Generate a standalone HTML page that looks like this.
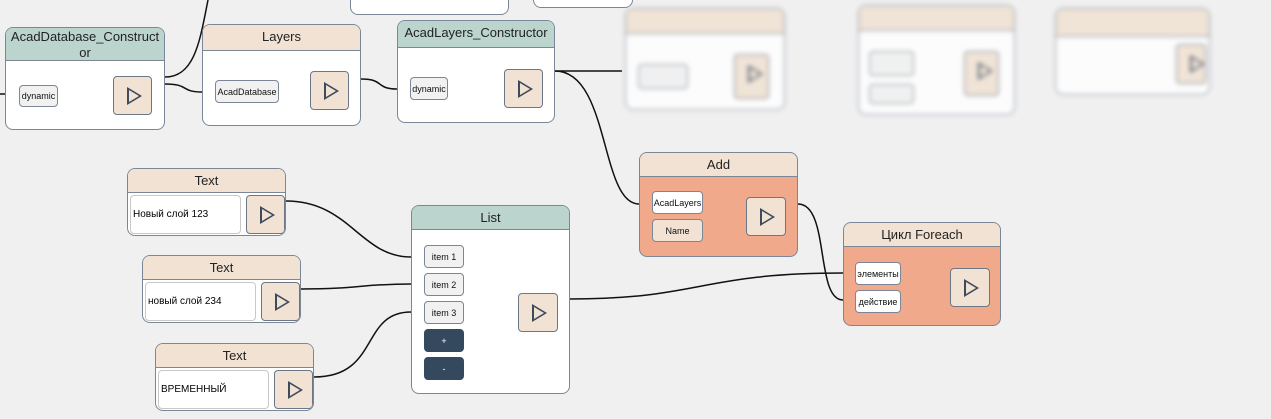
<!DOCTYPE html>
<html><head><meta charset="utf-8"><style>
body{margin:0;width:1271px;height:419px;background:#f0f0f0;position:relative;overflow:hidden;font-family:"Liberation Sans","DejaVu Sans",sans-serif;}
.n{position:absolute;background:#fff;border:1px solid #7b8796;border-radius:8px;box-sizing:border-box;overflow:hidden;}
.h{background:#f1e2d3;border-bottom:1px solid #7b8796;text-align:center;font-size:13px;color:#222;box-sizing:border-box;}
.t{background:#bcd4ce;}
.o{background:#f0a98b;}
.p{position:absolute;border:1px solid #7b8796;border-radius:4px;background:#f1f1f1;font-size:9px;color:#111;display:flex;align-items:center;justify-content:center;box-sizing:border-box;}
.d{background:#34495e;color:#fff;border-color:#34495e;}
.b{position:absolute;border:1px solid #6b7786;border-radius:4px;background:#f1e2d3;box-sizing:border-box;}
.b::after{content:"";position:absolute;left:13px;top:10px;border-left:15px solid #3e4b5c;border-top:9px solid transparent;border-bottom:9px solid transparent;}
.b::before{content:"";position:absolute;left:15px;top:13px;border-left:10px solid #f1e2d3;border-top:6px solid transparent;border-bottom:6px solid transparent;z-index:2;}
.in{position:absolute;border:1px solid #c8c8c8;border-radius:4px;background:#fff;font-size:10px;display:flex;align-items:center;padding-left:2px;box-sizing:border-box;}
.bl{filter:blur(2.5px);opacity:.85}
</style></head><body>
<svg width="1271" height="419" style="position:absolute;left:0;top:0" fill="none" stroke="#111" stroke-width="1.5">
<path d="M0 94 H18"/>
<path d="M165 77 C195 77 200 40 208 0"/>
<path d="M165 84 C190 84 180 92 202 92"/>
<path d="M361 79 C385 79 375 89 397 89"/>
<path d="M555 71 H622" />
<path d="M555 71 C610 71 600 204 639 204"/>
<path d="M798 204 C830 204 815 300 843 300"/>
<path d="M570 299 C700 299 700 273 843 273"/>
<path d="M286 201 C350 201 360 257 411 257"/>
<path d="M301 289 C360 289 360 284 411 284"/>
<path d="M314 377 C380 377 360 312 411 312"/>
</svg>

<div class="n" style="left:350px;top:-10px;width:159px;height:25px"></div>
<div class="n" style="left:533px;top:-10px;width:100px;height:18px"></div>

<div class="bl">
<div class="n" style="left:625px;top:8px;width:160px;height:102px"><div class="h" style="height:25px"></div>
<div class="p" style="left:12px;top:55px;width:50px;height:25px"></div><div class="b" style="left:108px;top:45px;width:35px;height:45px"></div></div>
<div class="n" style="left:858px;top:5px;width:157px;height:110px"><div class="h" style="height:25px"></div>
<div class="p" style="left:10px;top:45px;width:45px;height:25px"></div><div class="p" style="left:10px;top:78px;width:45px;height:20px"></div><div class="b" style="left:105px;top:45px;width:35px;height:45px"></div></div>
<div class="n" style="left:1055px;top:8px;width:155px;height:87px"><div class="h" style="height:28px"></div><div class="b" style="left:120px;top:35px;width:30px;height:40px"></div></div>
</div>

<div class="n" style="left:5px;top:27px;width:160px;height:103px"><div class="h t" style="height:33px;line-height:16px;padding-top:1px">AcadDatabase_Construct<br>or</div>
<div class="p" style="left:13px;top:57px;width:39px;height:22px">dynamic</div><div class="b" style="left:107px;top:48px;width:39px;height:39px"></div></div>

<div class="n" style="left:202px;top:24px;width:159px;height:102px"><div class="h" style="height:26px;line-height:24px">Layers</div>
<div class="p" style="left:12px;top:55px;width:64px;height:23px">AcadDatabase</div><div class="b" style="left:107px;top:46px;width:39px;height:39px"></div></div>

<div class="n" style="left:397px;top:20px;width:158px;height:103px"><div class="h t" style="height:27px;line-height:24px">AcadLayers_Constructor</div>
<div class="p" style="left:12px;top:56px;width:38px;height:23px">dynamic</div><div class="b" style="left:106px;top:48px;width:39px;height:39px"></div></div>

<div class="n" style="left:127px;top:168px;width:159px;height:68px"><div class="h" style="height:24px;line-height:24px">Text</div>
<div class="in" style="left:2px;top:26px;width:111px;height:39px">Новый слой 123</div><div class="b" style="left:118px;top:26px;width:39px;height:39px"></div></div>
<div class="n" style="left:142px;top:255px;width:159px;height:68px"><div class="h" style="height:24px;line-height:24px">Text</div>
<div class="in" style="left:2px;top:26px;width:111px;height:39px">новый слой 234</div><div class="b" style="left:118px;top:26px;width:39px;height:39px"></div></div>
<div class="n" style="left:155px;top:343px;width:159px;height:68px"><div class="h" style="height:24px;line-height:24px">Text</div>
<div class="in" style="left:2px;top:26px;width:111px;height:39px">ВРЕМЕННЫЙ</div><div class="b" style="left:118px;top:26px;width:39px;height:39px"></div></div>

<div class="n" style="left:411px;top:205px;width:159px;height:189px"><div class="h t" style="height:24px;line-height:24px">List</div>
<div class="p" style="left:12px;top:39px;width:40px;height:23px">item 1</div>
<div class="p" style="left:12px;top:67px;width:40px;height:23px">item 2</div>
<div class="p" style="left:12px;top:95px;width:40px;height:23px">item 3</div>
<div class="p d" style="left:12px;top:123px;width:40px;height:23px">+</div>
<div class="p d" style="left:12px;top:151px;width:40px;height:23px">-</div>
<div class="b" style="left:106px;top:87px;width:40px;height:39px"></div></div>

<div class="n o" style="left:639px;top:152px;width:159px;height:105px"><div class="h" style="height:24px;line-height:24px">Add</div>
<div class="p" style="left:12px;top:38px;width:51px;height:23px;background:#fff">AcadLayers</div>
<div class="p" style="left:12px;top:66px;width:51px;height:23px;background:#f1e2d3">Name</div>
<div class="b" style="left:106px;top:44px;width:40px;height:39px"></div></div>

<div class="n o" style="left:843px;top:222px;width:158px;height:104px"><div class="h" style="height:24px;line-height:24px">Цикл Foreach</div>
<div class="p" style="left:11px;top:39px;width:46px;height:23px;background:#fff">элементы</div>
<div class="p" style="left:11px;top:67px;width:46px;height:23px;background:#fff">действие</div>
<div class="b" style="left:106px;top:45px;width:40px;height:39px"></div></div>
</body></html>
